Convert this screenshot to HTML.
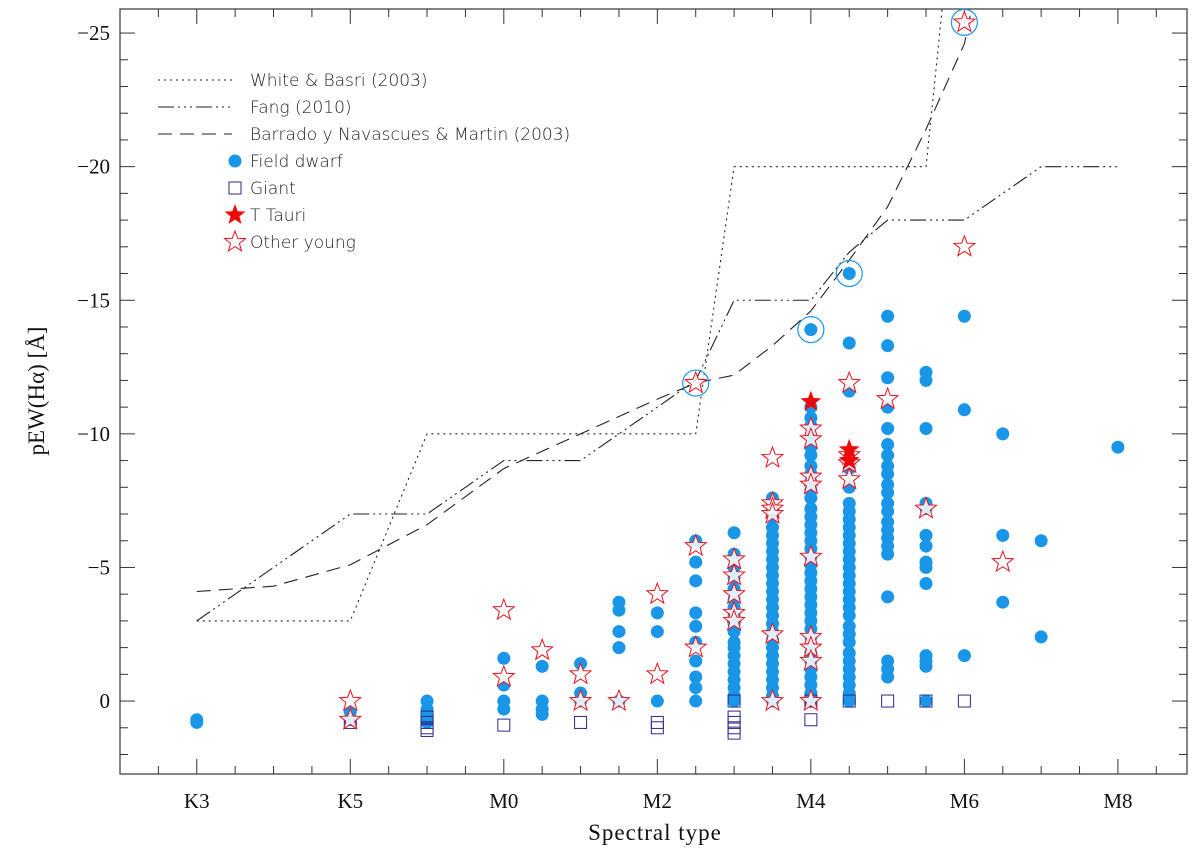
<!DOCTYPE html>
<html><head><meta charset="utf-8"><style>
html,body{margin:0;padding:0;background:#fff;}
svg{display:block;}
.tk{font-family:"Liberation Serif",serif;font-size:21px;fill:#111;}
.lg{font-family:"DejaVu Sans","Liberation Sans",sans-serif;font-size:17px;fill:#222;font-weight:200;}
</style></head><body>
<svg id="chart" width="1200" height="854" viewBox="0 0 1200 854">
<rect x="120" y="9" width="1067" height="765" fill="none" stroke="#333" stroke-width="1.2"/>
<g id="axes"></g>
<g id="lines"></g>
<g id="marks"></g>
<g id="legend"></g>
<text x="655" y="840" text-anchor="middle" class="tk" style="font-size:23px;letter-spacing:1px">Spectral type</text>
<text transform="translate(44,391) rotate(-90)" text-anchor="middle" class="tk" style="font-size:23px">pEW(Hα) [Å]</text>
</svg>
<script>
// x: subtypes relative to M0 (K5=-2, K3=-4)
const xTickVals=[-4,-2,0,2,4,6,8];
const xTickLabels=["K3","K5","M0","M2","M4","M6","M8"];
const yTickVals=[0,-5,-10,-15,-20,-25];
const yTickLabels=["0","\u22125","\u221210","\u221215","\u221220","\u221225"];
const whiteX=[-4,-2,-1,2.5,3,5.5,5.75];
const whiteY=[-3,-3,-10,-10,-20,-20,-27];
const fangX=[-4,-2,-1,0,1,2.5,3,3.5,4,4.5,5,6,7,8];
const fangY=[-3,-7,-7,-9,-9,-12,-15,-15,-15,-16.8,-18,-18,-20,-20];
const barX=[-4,-3,-2,-1,0,1,2,2.5,3,3.5,4,4.5,5,5.5,6,6.1];
const barY=[-4.1,-4.3,-5.1,-6.6,-8.7,-10,-11.3,-11.9,-12.2,-13.3,-14.6,-16.5,-18.5,-21.4,-24.6,-26];
const dwarfTypes=[-4,-2,-1,0,0.5,1,1.5,2,2.5,3,3.5,4,4.5,5,5.5,6,6.5,7,8];
const dwarfVals=[
[0.7,0.8],[0.4,0.7],[0,0.3,0.6,0.8],[-1.6,-0.6,0,0.3],[-1.3,0,0.3,0.5],[-1.4,-0.3,0],
[-3.7,-3.4,-2.6,-2.0,0],[-3.3,-2.6,0],
[-6,-5.2,-4.5,-3.3,-2.8,-2.2,-1.5,-0.9,-0.5,0],
[-6.3,-5.5,-5.0,-4.6,-4.2,-3.8,-3.5,-3.2,-2.9,-2.6,-2.2,-2.0,-1.7,-1.4,-1.1,-0.8,-0.5,-0.2,0],
[-7.6,-7.2,-6.9,-6.5,-6.2,-5.9,-5.6,-5.3,-5.0,-4.7,-4.4,-4.1,-3.8,-3.5,-3.2,-2.9,-2.6,-2.3,-2.0,-1.7,-1.4,-1.1,-0.8,-0.5,-0.2,0],
[-13.9,-11,-10.6,-10.3,-9.9,-9.5,-9.2,-8.8,-8.5,-8.2,-7.9,-7.6,-7.2,-6.9,-6.6,-6.3,-6.0,-5.7,-5.4,-5.1,-4.8,-4.5,-4.2,-3.9,-3.6,-3.3,-3,-2.7,-2.4,-2.1,-1.8,-1.5,-1.2,-0.9,-0.6,-0.3,0],
[-16,-13.4,-11.6,-9,-8.7,-8.0,-7.4,-7.1,-6.8,-6.5,-6.2,-5.9,-5.6,-5.3,-5.0,-4.7,-4.4,-4.1,-3.8,-3.5,-3.2,-2.8,-2.5,-2.2,-1.8,-1.5,-1.2,-0.9,-0.6,-0.3,0],
[-14.4,-13.3,-12.1,-11,-10.2,-9.6,-9.2,-8.8,-8.5,-8.1,-7.8,-7.4,-7.1,-6.7,-6.4,-6.1,-5.8,-5.5,-3.9,-1.5,-1.2,-0.9],
[-12.3,-12,-10.2,-7.4,-7.2,-6.2,-5.8,-5.2,-5,-4.4,-1.7,-1.5,-1.3,0],
[-14.4,-10.9,-1.7],[-10,-6.2,-3.7],[-6,-2.4],[-9.5]];
const giantTypes=[-2,-1,-1,-1,-1,0,1,2,2,3,3,3,3,3,4,4,4.5,5,5.5,6];
const giantVals=[0.8,0.6,0.8,1.0,1.1,0.9,0.8,0.8,1.0,0,0.6,0.8,1.0,1.2,0,0.7,0,0,0,0];
const ttauriTypes=[4,4.5,4.5];
const ttauriVals=[-11.2,-9.4,-9.0];
const youngTypes=[-2,-2,0,0,0.5,1,1,1.5,2,2,2.5,2.5,2.5,3,3,3,3,3,3.5,3.5,3.5,3.5,3.5,3.5,4,4,4,4,4,4,4,4,4,4.5,4.5,4.5,4.5,5,5.5,6,6,6.5];
const youngVals=[0,0.7,-3.4,-0.9,-1.9,-1.0,0,0,-4,-1,-11.9,-5.8,-2,-5.3,-4.7,-4,-3.3,-3,-9.1,-7.4,-7.2,-7,-2.5,0,-10.2,-9.8,-8.4,-8.1,-5.4,-2.4,-2,-1.5,0,-11.9,-9.2,-8.9,-8.3,-11.3,-7.2,-17,-25.4,-5.2];
const circTypes=[2.5,4,4.5,6];
const circVals=[-11.9,-13.9,-16,-25.4];

const NS="http://www.w3.org/2000/svg";
const L=120,R=1187,T=9,B=774;
const xMin=-5,xMax=8.9,yMin=2.73,yMax=-25.9;
const sx=v=>L+(v-xMin)/(xMax-xMin)*(R-L);
const sy=v=>B+(v-yMin)/(yMax-yMin)*(T-B);
function mk(tag,attrs,parent){const e=document.createElementNS(NS,tag);for(const k in attrs)e.setAttribute(k,attrs[k]);parent.appendChild(e);return e;}
const axes=document.getElementById('axes');
for(let v=-4.5;v<=8.6;v+=0.5){const maj=Number.isInteger(v/2)&&Number.isInteger(v);const len=maj?15:8;
 const t=mk('line',{x1:sx(v),x2:sx(v),y1:B,y2:B-len,stroke:'#333','stroke-width':1},axes);
 
 
 const t2=mk('line',{x1:sx(v),x2:sx(v),y1:T,y2:T+len,stroke:'#333','stroke-width':1},axes);
 
 }
xTickVals.forEach((v,i)=>{const t=mk('text',{x:sx(v),y:808,'text-anchor':'middle',class:'tk'},axes);t.textContent=xTickLabels[i];
 
 });
for(let v=2;v>=-25;v--){const maj=v%5===0;const len=maj?15:8;
 const t=mk('line',{x1:L,x2:L+len,y1:sy(v),y2:sy(v),stroke:'#333','stroke-width':1},axes);
 
 
 const t2=mk('line',{x1:R,x2:R-len,y1:sy(v),y2:sy(v),stroke:'#333','stroke-width':1},axes);
 
 }
yTickVals.forEach((v,i)=>{const t=mk('text',{x:110,y:sy(v)+7,'text-anchor':'end',class:'tk'},axes);t.textContent=yTickLabels[i];
 
 });
const defs=mk('defs',{},document.getElementById('chart'));
const cp=mk('clipPath',{id:'pc'},defs);mk('rect',{x:L,y:T,width:R-L,height:B-T},cp);
const lines=document.getElementById('lines');lines.setAttribute('clip-path','url(#pc)');
function poly(xs,ys,dash,name){const p=mk('polyline',{points:xs.map((x,i)=>sx(x)+','+sy(ys[i])).join(' '),fill:'none',stroke:'#222','stroke-width':1.1,'stroke-dasharray':dash},lines);
 
 }
poly(whiteX,whiteY,'2,4','white-basri-line');
poly(fangX,fangY,'16,4,2,4,2,4,2,4','fang-line');
poly(barX,barY,'14,8','barrado-line');
const marks=document.getElementById('marks');
const BLUE='#1a96e8';
function starPts(cx,cy,r){let s=[];for(let i=0;i<10;i++){const a=-Math.PI/2+i*Math.PI/5;const rr=i%2?r*0.42:r;s.push((cx+rr*Math.cos(a)).toFixed(1)+','+(cy+rr*Math.sin(a)).toFixed(1));}return s.join(' ');}
dwarfTypes.forEach((t,i)=>dwarfVals[i].forEach(v=>{const c=mk('circle',{cx:sx(t),cy:sy(v),r:6.5,fill:BLUE},marks);
 
 }));
giantTypes.forEach((t,i)=>{const r=mk('rect',{x:sx(t)-6,y:sy(giantVals[i])-6,width:12,height:12,fill:'none',stroke:'#2a2a8a','stroke-width':1},marks);
 
 });
youngTypes.forEach((t,i)=>{const p=mk('polygon',{points:starPts(sx(t),sy(youngVals[i]),11),fill:'#fff','fill-opacity':0.85,stroke:'#e8141e','stroke-width':1},marks);
 
 });
ttauriTypes.forEach((t,i)=>{const p=mk('polygon',{points:starPts(sx(t),sy(ttauriVals[i]),11),fill:'#f00808'},marks);
 
 });
circTypes.forEach((t,i)=>{const c=mk('circle',{cx:sx(t),cy:sy(circVals[i]),r:13,fill:'none',stroke:BLUE,'stroke-width':1.2},marks);
 
 });
const lg=document.getElementById('legend');
const entries=[['White & Basri (2003)','2,4'],['Fang (2010)','16,4,2,4,2,4,2,4'],['Barrado y Navascues & Martin (2003)','14,8']];
entries.forEach((e,i)=>{const y=80+i*27;
 const l=mk('line',{x1:158,x2:232,y1:y,y2:y,stroke:'#222','stroke-width':1,'stroke-dasharray':e[1]},lg);
 
 
 const t=mk('text',{x:250,y:y+6,class:'lg'},lg);t.textContent=e[0];
 
 });
const syms=['Field dwarf','Giant','T Tauri','Other young'];
syms.forEach((s,i)=>{const y=161+i*27;const cx=235;let m;
 if(i===0)m=mk('circle',{cx:cx,cy:y,r:6.5,fill:BLUE},lg);
 if(i===1)m=mk('rect',{x:cx-6,y:y-6,width:12,height:12,fill:'none',stroke:'#2a2a8a'},lg);
 if(i===2)m=mk('polygon',{points:starPts(cx,y,11),fill:'#f00808'},lg);
 if(i===3)m=mk('polygon',{points:starPts(cx,y,11),fill:'none',stroke:'#e8141e'},lg);
 
 
 const t=mk('text',{x:250,y:y+6,class:'lg'},lg);t.textContent=s;
 
 });
</script>
</body></html>
